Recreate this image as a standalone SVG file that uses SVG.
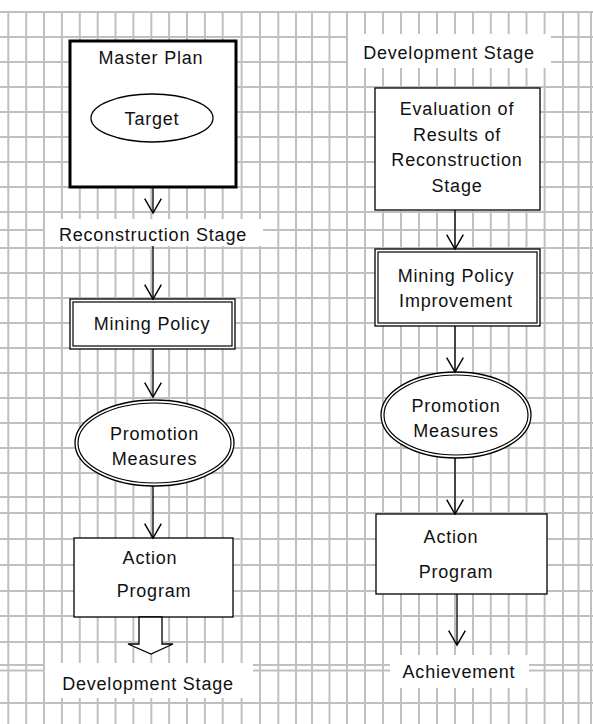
<svg xmlns="http://www.w3.org/2000/svg" width="593" height="724" viewBox="0 0 593 724">
  <defs>
    <style>
      .grid line { stroke: #c0c0c0; stroke-width: 2; }
      .box { fill: #ffffff; stroke: #000000; stroke-width: 1.3; }
      .thick { fill: #ffffff; stroke: #000000; stroke-width: 3; }
      .plain { fill: none; stroke: #000000; stroke-width: 1.2; }
      .label-bg { fill: #ffffff; stroke: none; }
      .conn { fill: none; stroke: #000000; stroke-width: 1.3; marker-end: url(#vhead); }
      text { font-family: "Liberation Sans", Arial, sans-serif; font-size: 18px; fill: #111111; text-anchor: middle; letter-spacing: 0.8px; }
    </style>
    <marker id="vhead" markerUnits="userSpaceOnUse" markerWidth="20" markerHeight="20" viewBox="-14 -9 16 18" refX="0" refY="0" orient="auto" overflow="visible">
      <path d="M-13,-7.5 L0,0 L-13,7.5" fill="none" stroke="#000000" stroke-width="1.3"/>
    </marker>
  </defs>

  <rect x="0" y="0" width="593" height="724" fill="#ffffff"/>

  <!-- background ruled grid -->
  <g class="grid" id="grid">
    <line x1="0" y1="12" x2="593" y2="12"/>
    <line x1="0" y1="37" x2="593" y2="37"/>
    <line x1="0" y1="62" x2="593" y2="62"/>
    <line x1="0" y1="87" x2="593" y2="87"/>
    <line x1="0" y1="112" x2="593" y2="112"/>
    <line x1="0" y1="137" x2="593" y2="137"/>
    <line x1="0" y1="162" x2="593" y2="162"/>
    <line x1="0" y1="187" x2="593" y2="187"/>
    <line x1="0" y1="212" x2="593" y2="212"/>
    <line x1="0" y1="230" x2="593" y2="230"/>
    <line x1="0" y1="248" x2="593" y2="248"/>
    <line x1="0" y1="273" x2="593" y2="273"/>
    <line x1="0" y1="298" x2="593" y2="298"/>
    <line x1="0" y1="323" x2="593" y2="323"/>
    <line x1="0" y1="348" x2="593" y2="348"/>
    <line x1="0" y1="373" x2="593" y2="373"/>
    <line x1="0" y1="398" x2="593" y2="398"/>
    <line x1="0" y1="423" x2="593" y2="423"/>
    <line x1="0" y1="448" x2="593" y2="448"/>
    <line x1="0" y1="473" x2="593" y2="473"/>
    <line x1="0" y1="497" x2="593" y2="497"/>
    <line x1="0" y1="513" x2="593" y2="513"/>
    <line x1="0" y1="539" x2="593" y2="539"/>
    <line x1="0" y1="565" x2="593" y2="565"/>
    <line x1="0" y1="591" x2="593" y2="591"/>
    <line x1="0" y1="616" x2="593" y2="616"/>
    <line x1="0" y1="642" x2="593" y2="642"/>
    <line x1="0" y1="665" x2="593" y2="665"/>
    <line x1="0" y1="670.5" x2="593" y2="670.5"/>
    <line x1="0" y1="703" x2="593" y2="703"/>
    <line x1="8.3" y1="12" x2="8.3" y2="724"/>
    <line x1="26.2" y1="12" x2="26.2" y2="724"/>
    <line x1="44" y1="12" x2="44" y2="724"/>
    <line x1="61.9" y1="12" x2="61.9" y2="724"/>
    <line x1="79.8" y1="12" x2="79.8" y2="724"/>
    <line x1="97.7" y1="12" x2="97.7" y2="724"/>
    <line x1="115.5" y1="12" x2="115.5" y2="724"/>
    <line x1="133.4" y1="12" x2="133.4" y2="724"/>
    <line x1="151.3" y1="12" x2="151.3" y2="724"/>
    <line x1="169.1" y1="12" x2="169.1" y2="724"/>
    <line x1="187" y1="12" x2="187" y2="724"/>
    <line x1="204.9" y1="12" x2="204.9" y2="724"/>
    <line x1="222.7" y1="12" x2="222.7" y2="724"/>
    <line x1="241.6" y1="12" x2="241.6" y2="724"/>
    <line x1="260" y1="12" x2="260" y2="724"/>
    <line x1="278.3" y1="12" x2="278.3" y2="724"/>
    <line x1="296" y1="12" x2="296" y2="724"/>
    <line x1="312" y1="12" x2="312" y2="724"/>
    <line x1="329.5" y1="12" x2="329.5" y2="724"/>
    <line x1="347" y1="12" x2="347" y2="724"/>
    <line x1="365" y1="12" x2="365" y2="724"/>
    <line x1="383" y1="12" x2="383" y2="724"/>
    <line x1="401" y1="12" x2="401" y2="724"/>
    <line x1="419" y1="12" x2="419" y2="724"/>
    <line x1="437" y1="12" x2="437" y2="724"/>
    <line x1="455" y1="12" x2="455" y2="724"/>
    <line x1="473" y1="12" x2="473" y2="724"/>
    <line x1="490.8" y1="12" x2="490.8" y2="724"/>
    <line x1="508.7" y1="12" x2="508.7" y2="724"/>
    <line x1="526.5" y1="12" x2="526.5" y2="724"/>
    <line x1="544.6" y1="12" x2="544.6" y2="724"/>
    <line x1="563" y1="12" x2="563" y2="724"/>
    <line x1="578.5" y1="12" x2="578.5" y2="724"/>
    <line x1="591" y1="12" x2="591" y2="724"/>
  </g>

  <!-- stage labels on white backing -->
  <g id="label-reconstruction">
    <rect class="label-bg" x="45" y="219" width="218" height="27"/>
    <text x="153" y="241">Reconstruction Stage</text>
  </g>
  <g id="label-development-left">
    <rect class="label-bg" x="45" y="663" width="208" height="35"/>
    <text x="148" y="690">Development Stage</text>
  </g>
  <g id="label-development-right">
    <rect class="label-bg" x="348" y="34" width="203" height="34"/>
    <text x="449" y="59">Development Stage</text>
  </g>
  <g id="label-achievement">
    <rect class="label-bg" x="390" y="655" width="139" height="33"/>
    <text x="459" y="678">Achievement</text>
  </g>

  <!-- left column -->
  <g id="master-plan">
    <rect class="thick" x="70" y="41" width="166" height="146"/>
    <text x="151" y="64">Master Plan</text>
  </g>
  <g id="target">
    <ellipse class="box" cx="152" cy="118" rx="61" ry="24"/>
    <text x="152" y="125">Target</text>
  </g>
  <g id="mining-policy">
    <rect class="box" x="70" y="299" width="165" height="50"/>
    <rect class="plain" x="73" y="302" width="159" height="44"/>
    <text x="152" y="330">Mining Policy</text>
  </g>
  <g id="promotion-left">
    <ellipse class="box" cx="154.5" cy="443" rx="79.5" ry="43"/>
    <ellipse class="plain" cx="154.5" cy="443" rx="76.5" ry="40"/>
    <text x="154.5" y="440">Promotion</text>
    <text x="154.5" y="465">Measures</text>
  </g>
  <g id="action-left">
    <rect class="box" x="74" y="538" width="159" height="79"/>
    <text x="150" y="564">Action</text>
    <text x="154" y="597">Program</text>
  </g>

  <!-- right column -->
  <g id="evaluation">
    <rect class="box" x="375" y="88" width="165" height="122"/>
    <text x="457" y="115">Evaluation of</text>
    <text x="457" y="141">Results of</text>
    <text x="457" y="166">Reconstruction</text>
    <text x="457" y="192">Stage</text>
  </g>
  <g id="mining-policy-improvement">
    <rect class="box" x="375" y="249" width="165" height="77"/>
    <rect class="plain" x="378" y="252" width="159" height="71"/>
    <text x="456" y="282">Mining Policy</text>
    <text x="456" y="307">Improvement</text>
  </g>
  <g id="promotion-right">
    <ellipse class="box" cx="456" cy="415" rx="75" ry="43"/>
    <ellipse class="plain" cx="456" cy="415" rx="72" ry="40"/>
    <text x="456" y="412">Promotion</text>
    <text x="456" y="437">Measures</text>
  </g>
  <g id="action-right">
    <rect class="box" x="376" y="514" width="171" height="80"/>
    <text x="451" y="543">Action</text>
    <text x="456" y="578">Program</text>
  </g>

  <!-- connectors -->
  <g id="connectors">
    <line class="conn" x1="153" y1="188" x2="153" y2="213"/>
    <line class="conn" x1="153" y1="246" x2="153" y2="299"/>
    <line class="conn" x1="153" y1="349" x2="153" y2="397"/>
    <line class="conn" x1="153" y1="486" x2="153" y2="538"/>
    <polygon points="139,617 162,617 162,644 173,644 151,654 128,644 139,644" fill="#ffffff" stroke="#000000" stroke-width="1.3"/>
    <line class="conn" x1="455" y1="210" x2="455" y2="249"/>
    <line class="conn" x1="455" y1="326" x2="455" y2="372"/>
    <line class="conn" x1="455" y1="458" x2="455" y2="514"/>
    <line class="conn" x1="457" y1="594" x2="457" y2="645"/>
  </g>
</svg>
